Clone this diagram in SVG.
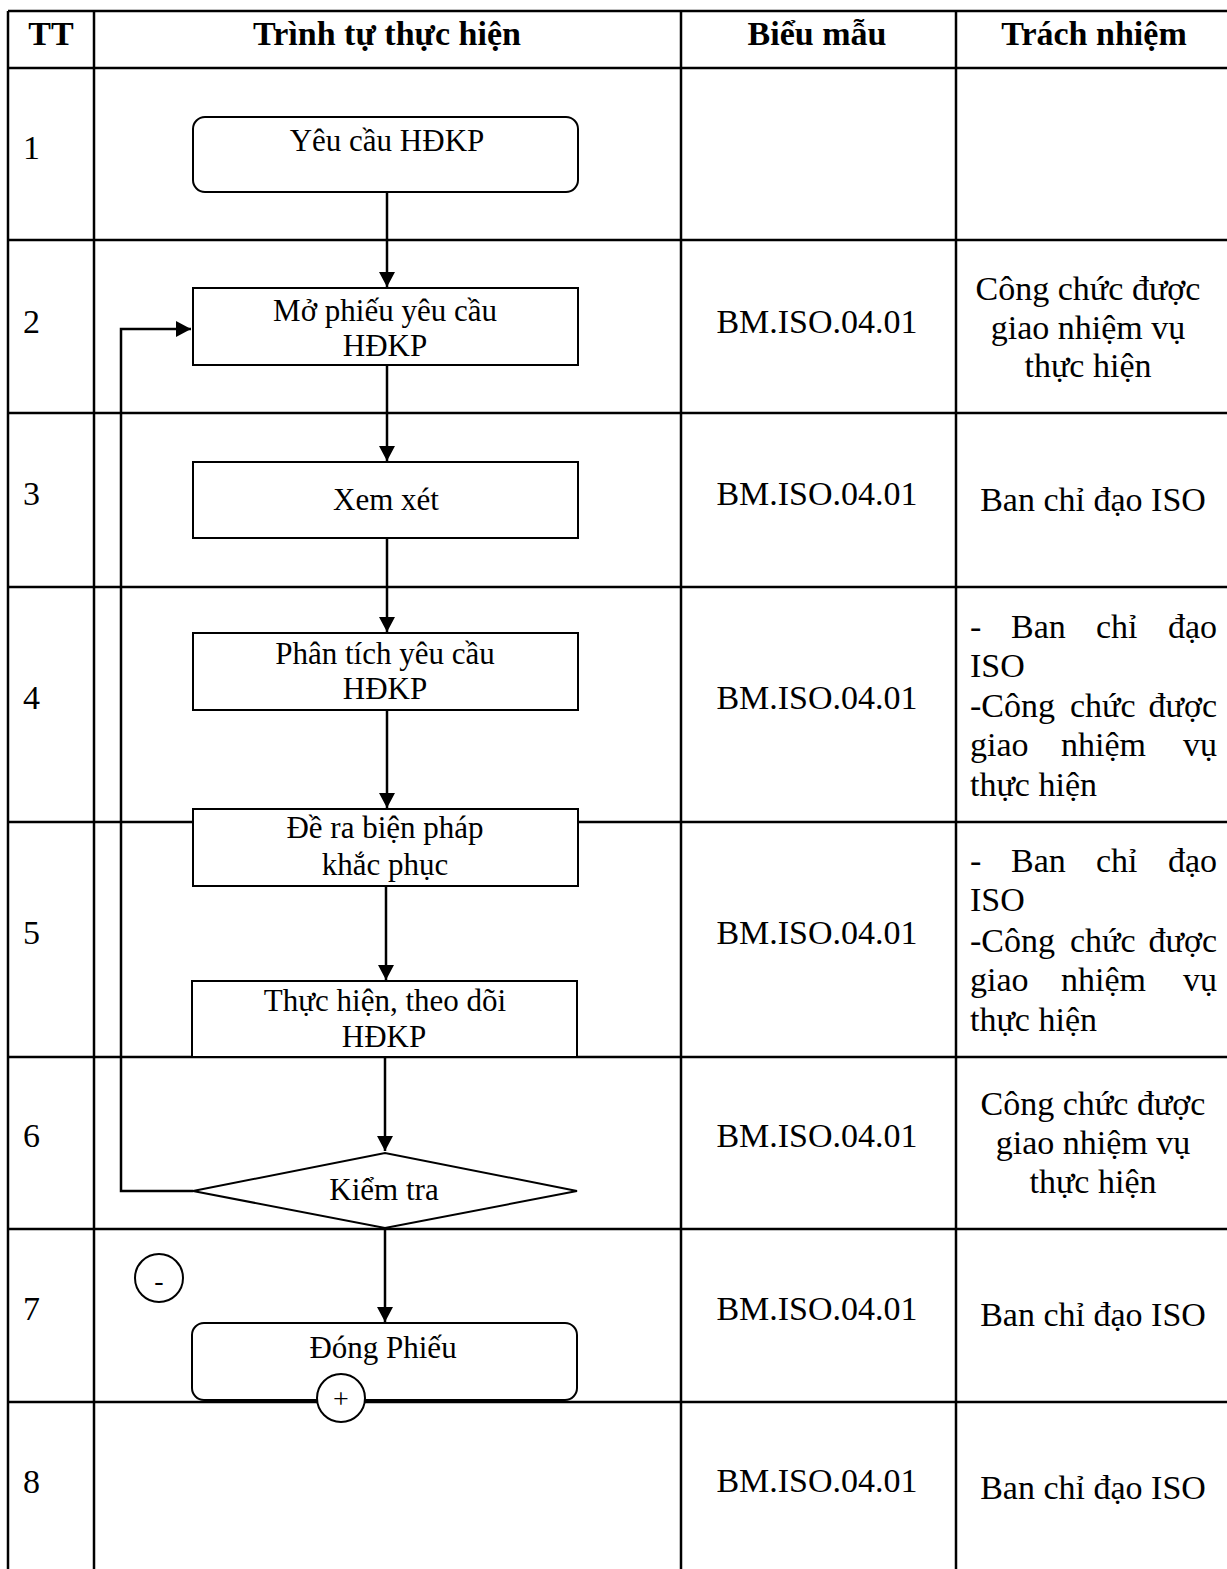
<svg xmlns="http://www.w3.org/2000/svg" width="1227" height="1569" viewBox="0 0 1227 1569">
<style>
.grid{stroke:#000;stroke-width:2.5;fill:none}
.box{fill:#fff;stroke:#000;stroke-width:2}
.ln{fill:none;stroke:#000;stroke-width:2.5}
.h{font-family:"Liberation Serif",serif;font-weight:bold;font-size:34px;fill:#000;text-anchor:middle}
.t{font-family:"Liberation Serif",serif;font-size:34px;fill:#000}
.c{text-anchor:middle}
.e{text-anchor:end}
.f{font-family:"Liberation Serif",serif;font-size:31px;fill:#000;text-anchor:middle}
.s{font-family:"Liberation Serif",serif;font-size:28px;fill:#000;text-anchor:middle}
</style>
<defs>
<marker id="ah" markerWidth="16" markerHeight="16" refX="15" refY="8" orient="auto" markerUnits="userSpaceOnUse">
<path d="M0,0 L15,8 L0,16 Z" fill="#000"/>
</marker>
</defs>
<rect width="1227" height="1569" fill="#fff"/>
<g id="table">
<path class="grid" d="M8,11 H1240 M8,68 H1240 M8,240 H1240 M8,413 H1240 M8,587 H1240 M8,822 H1240 M8,1057 H1240 M8,1229 H1240 M8,1402 H1240 M8,11 V1580 M94,11 V1580 M681,11 V1580 M956,11 V1580"/>
<text class="h" x="51" y="45">TT</text>
<text class="h" x="387" y="45">Trình tự thực hiện</text>
<text class="h" x="817" y="45">Biểu mẫu</text>
<text class="h" x="1094" y="45">Trách nhiệm</text>
<text class="t" x="23" y="159">1</text>
<text class="t" x="23" y="333">2</text>
<text class="t" x="23" y="505">3</text>
<text class="t" x="23" y="709">4</text>
<text class="t" x="23" y="944">5</text>
<text class="t" x="23" y="1147">6</text>
<text class="t" x="23" y="1320">7</text>
<text class="t" x="23" y="1493">8</text>
<text class="t c" x="817" y="333">BM.ISO.04.01</text>
<text class="t c" x="817" y="505">BM.ISO.04.01</text>
<text class="t c" x="817" y="709">BM.ISO.04.01</text>
<text class="t c" x="817" y="944">BM.ISO.04.01</text>
<text class="t c" x="817" y="1147">BM.ISO.04.01</text>
<text class="t c" x="817" y="1320">BM.ISO.04.01</text>
<text class="t c" x="817" y="1492">BM.ISO.04.01</text>
<text class="t c" x="1088" y="300">Công chức được</text>
<text class="t c" x="1088" y="339">giao nhiệm vụ</text>
<text class="t c" x="1088" y="377">thực hiện</text>
<text class="t c" x="1093" y="511">Ban chỉ đạo ISO</text>
<text class="t" x="970" y="638">-</text>
<text class="t" x="1011" y="638">Ban</text>
<text class="t" x="1096" y="638">chỉ</text>
<text class="t e" x="1217" y="638">đạo</text>
<text class="t" x="970" y="677">ISO</text>
<text class="t" x="970" y="717">-Công</text>
<text class="t" x="1070" y="717">chức</text>
<text class="t e" x="1217" y="717">được</text>
<text class="t" x="970" y="756">giao</text>
<text class="t" x="1061" y="756">nhiệm</text>
<text class="t e" x="1217" y="756">vụ</text>
<text class="t" x="970" y="796">thực hiện</text>
<text class="t" x="970" y="872">-</text>
<text class="t" x="1011" y="872">Ban</text>
<text class="t" x="1096" y="872">chỉ</text>
<text class="t e" x="1217" y="872">đạo</text>
<text class="t" x="970" y="911">ISO</text>
<text class="t" x="970" y="952">-Công</text>
<text class="t" x="1070" y="952">chức</text>
<text class="t e" x="1217" y="952">được</text>
<text class="t" x="970" y="991">giao</text>
<text class="t" x="1061" y="991">nhiệm</text>
<text class="t e" x="1217" y="991">vụ</text>
<text class="t" x="970" y="1031">thực hiện</text>
<text class="t c" x="1093" y="1115">Công chức được</text>
<text class="t c" x="1093" y="1154">giao nhiệm vụ</text>
<text class="t c" x="1093" y="1193">thực hiện</text>
<text class="t c" x="1093" y="1326">Ban chỉ đạo ISO</text>
<text class="t c" x="1093" y="1499">Ban chỉ đạo ISO</text>
</g>
<g id="connectors">
<line class="ln" x1="387" y1="192" x2="387" y2="287" marker-end="url(#ah)"/>
<line class="ln" x1="387" y1="365" x2="387" y2="461" marker-end="url(#ah)"/>
<line class="ln" x1="387" y1="538" x2="387" y2="632" marker-end="url(#ah)"/>
<line class="ln" x1="387" y1="710" x2="387" y2="808" marker-end="url(#ah)"/>
<line class="ln" x1="386" y1="886" x2="386" y2="980" marker-end="url(#ah)"/>
<line class="ln" x1="385" y1="1057" x2="385" y2="1151" marker-end="url(#ah)"/>
<line class="ln" x1="385" y1="1228" x2="385" y2="1322" marker-end="url(#ah)"/>
<polyline class="ln" points="193,1191 121,1191 121,329 191,329" marker-end="url(#ah)"/>
</g>
<g id="n1">
<rect class="box" x="193" y="117" width="385" height="75" rx="12"/>
<text class="f" x="387" y="151">Yêu cầu HĐKP</text>
</g>
<g id="n2">
<rect class="box" x="193" y="288" width="385" height="77"/>
<text class="f" x="385" y="321">Mở phiếu yêu cầu</text>
<text class="f" x="385" y="356">HĐKP</text>
</g>
<g id="n3">
<rect class="box" x="193" y="462" width="385" height="76"/>
<text class="f" x="386" y="510">Xem xét</text>
</g>
<g id="n4">
<rect class="box" x="193" y="633" width="385" height="77"/>
<text class="f" x="385" y="664">Phân tích yêu cầu</text>
<text class="f" x="385" y="699">HĐKP</text>
</g>
<g id="n5">
<rect class="box" x="193" y="809" width="385" height="77"/>
<text class="f" x="385" y="838">Đề ra biện pháp</text>
<text class="f" x="385" y="875">khắc phục</text>
</g>
<g id="n6">
<rect class="box" x="192" y="981" width="385" height="76"/>
<text class="f" x="385" y="1011">Thực hiện, theo dõi</text>
<text class="f" x="384" y="1047">HĐKP</text>
</g>
<g id="n7">
<polygon class="box" points="193,1191 385,1153 577,1191 385,1228"/>
<text class="f" x="384" y="1200">Kiểm tra</text>
</g>
<g id="n8">
<rect class="box" x="192" y="1323" width="385" height="77" rx="12"/>
<text class="f" x="383" y="1358">Đóng Phiếu</text>
</g>
<g id="minus">
<circle class="box" cx="159" cy="1278" r="24"/>
<text class="s" x="159" y="1290">-</text>
</g>
<g id="plus">
<circle class="box" cx="341" cy="1398" r="24"/>
<text class="s" x="341" y="1408">+</text>
</g>
</svg>
